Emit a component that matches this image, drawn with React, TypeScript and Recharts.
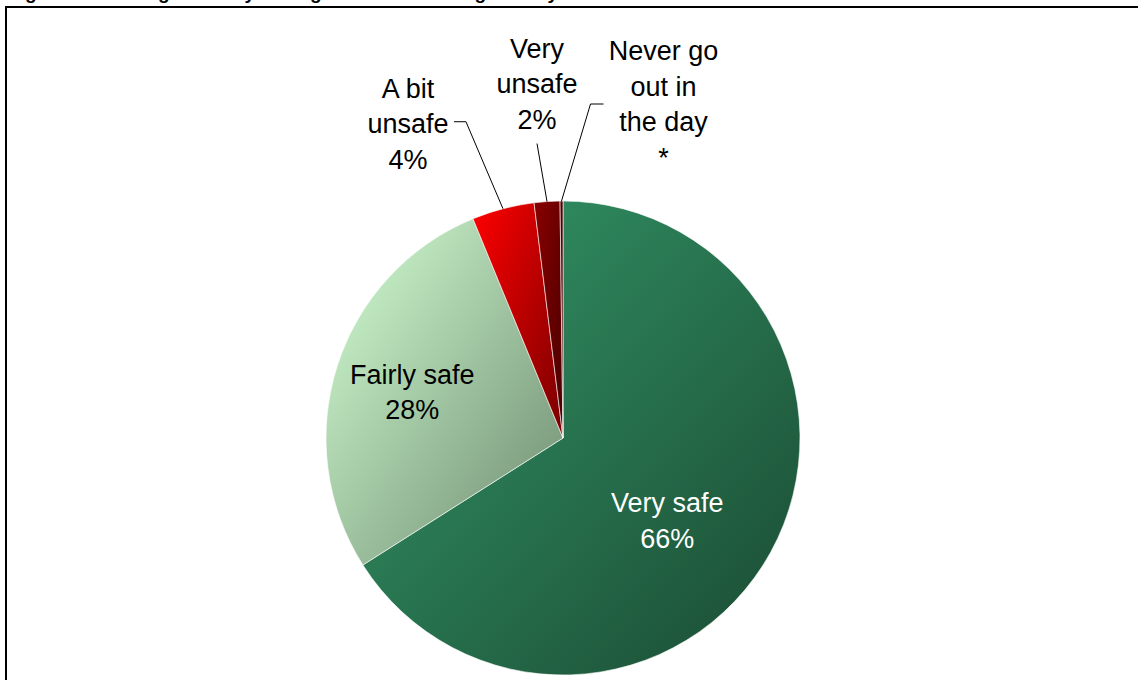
import React from 'react';
import { PieChart, Pie, Cell } from 'recharts';

// Feeling of safety in the neighbourhood during the day
const categories = ['Very safe', 'Fairly safe', 'A bit unsafe', 'Very unsafe', 'Never go out in the day'];
const shares = [66.0, 27.8, 4.25, 1.75, 0.2];
const shareLabels = ['66%', '28%', '4%', '2%', '*'];
const nameLines = [['Very safe'], ['Fairly safe'], ['A bit', 'unsafe'], ['Very', 'unsafe'], ['Never go', 'out in', 'the day']];

const data = categories.map((name, i) => ({ name, value: shares[i], pct: shareLabels[i] }));

// top-left -> bottom-right gradient stops for each slice
const gradients = [
  ['#34996a', '#1a4a32'],
  ['#d4ffd4', '#6c8a6e'],
  ['#ff0000', '#780000'],
  ['#8a0000', '#480000'],
  ['#5a0000', '#3a0000'],
];

const RAD = Math.PI / 180;
const LINE_H = 35.5;
const FONT = '"Liberation Sans", Arial, sans-serif';

// label placement: inside labels sit on the mid-angle at a radius fraction,
// outside ones get a leader line (edge -> elbow -> optional tail) and a text block
const labelLayout: any[] = [
  { inside: true, rf: 0.55, dx: -10, dy: 29, fill: '#fff' },
  { inside: true, rf: 0.667, dx: 0, dy: 11.5, fill: '#000' },
  { inside: false, ex: -37, ey: -87, tail: -12, tx: -46, ty: -24 },
  { inside: false, ex: -10, ey: -58, tail: 0, tx: 0, ty: -86 },
  { inside: false, ex: 29, ey: -97, tail: 13, tx: 60, ty: -44 },
];

const renderLabel = (props: any) => {
  const { cx, cy, midAngle, outerRadius, index } = props;
  const lay = labelLayout[index];
  const lines = [...nameLines[index], shareLabels[index]];
  const cos = Math.cos(-midAngle * RAD);
  const sin = Math.sin(-midAngle * RAD);

  if (lay.inside) {
    const r = outerRadius * lay.rf;
    const x = cx + r * cos + lay.dx;
    const y = cy + r * sin + lay.dy;
    const y0 = y - ((lines.length - 1) * LINE_H) / 2;
    return (
      <text key={`l${index}`} x={x} y={y0} textAnchor="middle" fontFamily={FONT} fontSize={27} fill={lay.fill}>
        {lines.map((t, i) => (
          <tspan key={i} x={x} y={y0 + i * LINE_H}>{t}</tspan>
        ))}
      </text>
    );
  }

  const px = cx + outerRadius * cos;
  const py = cy + outerRadius * sin;
  const ex = px + lay.ex;
  const ey = py + lay.ey;
  const hx = ex + lay.tail;
  const tx = hx + lay.tx;
  const ty = ey + lay.ty;
  return (
    <g key={`l${index}`}>
      <polyline points={`${px},${py} ${ex},${ey} ${hx},${ey}`} fill="none" stroke="#000" strokeWidth={1} />
      <text x={tx} y={ty} textAnchor="middle" fontFamily={FONT} fontSize={27} fill="#000">
        {lines.map((t, i) => (
          <tspan key={i} x={tx} y={ty + i * LINE_H}>{t}</tspan>
        ))}
      </text>
    </g>
  );
};

export default function App() {
  return (
    <div style={{ position: 'absolute', left: 0, top: 0, width: 1138, height: 680, overflow: 'hidden', background: '#fff' }}>
      <div
        style={{
          position: 'absolute', left: 8, top: -18, whiteSpace: 'nowrap',
          fontFamily: FONT, fontWeight: 'bold', fontSize: 19, lineHeight: 'normal',
        }}
      >
        Figure 4.1 Feeling of Safety in neighbourhood during the day
      </div>
      <div
        style={{
          position: 'absolute', left: 5, top: 6, width: 1200, height: 700,
          borderLeft: '2px solid #000', borderTop: '2px solid #000',
        }}
      />
      <div style={{ position: 'absolute', left: 0, top: 0 }}>
        <PieChart width={1138} height={680} margin={{ top: 0, right: 0, bottom: 0, left: 0 }}>
          <defs>
            {gradients.map((g, i) => (
              <linearGradient key={i} id={`slice${i}`} x1="0" y1="0" x2="1" y2="1">
                <stop offset="0%" stopColor={g[0]} />
                <stop offset="100%" stopColor={g[1]} />
              </linearGradient>
            ))}
          </defs>
          <Pie
            data={data}
            dataKey="value"
            nameKey="name"
            cx={563}
            cy={438}
            outerRadius={237}
            startAngle={90}
            endAngle={-270}
            stroke="#ffffff"
            strokeWidth={0.6}
            label={renderLabel}
            labelLine={false}
            isAnimationActive={false}
          >
            {data.map((d, i) => (
              <Cell key={d.name} fill={`url(#slice${i})`} />
            ))}
          </Pie>
        </PieChart>
      </div>
    </div>
  );
}
